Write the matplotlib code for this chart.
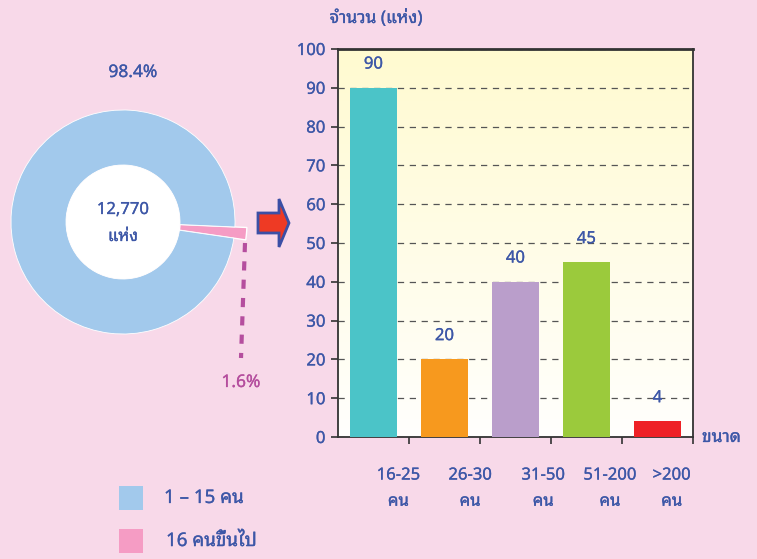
import matplotlib
matplotlib.use('Agg')
import matplotlib.pyplot as plt
import numpy as np
from matplotlib.patches import Circle, FancyArrow, Rectangle
from matplotlib.lines import Line2D
from matplotlib.transforms import IdentityTransform
from matplotlib.colors import LinearSegmentedColormap
import matplotlib.patheffects as pe

plt.rcParams['font.family'] = ['Noto Sans Thai Looped', 'DejaVu Sans']

# ---- data ----
pie_labels = ['1 – 15 คน', '16 คนขึ้นไป']
pie_values = [98.4, 1.6]
pie_total = '12,770'
pie_unit = 'แห่ง'
bar_categories = ['16-25\nคน', '26-30\nคน', '31-50\nคน', '51-200\nคน', '>200\nคน']
bar_values = [90, 20, 40, 45, 4]
y_ticks = [0, 10, 20, 30, 40, 50, 60, 70, 80, 90, 100]
y_title = 'จำนวน (แห่ง)'
x_title = 'ขนาด'

# ---- styles ----
W, H = 757, 559
BG = '#F8D9E9'
TXT = '#3D57A7'
MAG = '#B54E9E'
pie_colors = ['#A2C9EC', '#F59CC4']
bar_colors = ['#4BC4C8', '#F7991E', '#BA9ECB', '#9BCA3C', '#EE2126']

def thick(c):
    return [pe.withStroke(linewidth=0.2, foreground=c)]

fig = plt.figure(figsize=(W / 100, H / 100), dpi=100, facecolor=BG)

def px(x, y):
    return x / W, 1 - y / H

# ---- donut ----
cx, cy = 123, 222
axp = fig.add_axes([(cx - 130) / W, (H - cy - 130) / H, 260 / W, 260 / H])
axp.set_facecolor('none')
wedges, _ = axp.pie(pie_values[::-1], colors=pie_colors[::-1], startangle=-8.3,
                    counterclock=True, radius=1.12,
                    wedgeprops=dict(width=0.55, edgecolor='white', linewidth=0.6))
pink = wedges[0]
pink.set_radius(1.24)
pink.set_width(0.67)
pink.set_linewidth(1.0)
axp.add_patch(Circle((0, 0), 0.57, facecolor='white', edgecolor='none', zorder=5))
axp.set_xlim(-1.3, 1.3)
axp.set_ylim(-1.3, 1.3)
axp.set_aspect('equal')
axp.axis('off')

fig.text(*px(123, 210), pie_total, ha='center', va='center', color=TXT, fontsize=12, path_effects=thick(TXT))
fig.text(*px(123, 237), pie_unit, ha='center', va='center', color=TXT, fontsize=12, path_effects=thick(TXT))
fig.text(*px(133, 72), f'{pie_values[0]}%', ha='center', va='center', color=TXT, fontsize=12.5, path_effects=thick(TXT))
fig.text(*px(241, 382), f'{pie_values[1]}%', ha='center', va='center', color=MAG, fontsize=12.5, path_effects=thick(MAG))
x0, y0 = px(245, 243)
x1, y1 = px(241, 358)
fig.add_artist(Line2D([x0, x1], [y0, y1], color=MAG, lw=3, dashes=(2.2, 2.2)))

# arrow
fig.add_artist(FancyArrow(258, H - 223, 31, 0, width=20, head_width=48, head_length=10,
                          length_includes_head=True, facecolor='#EE3A24',
                          edgecolor='#3B4FA5', linewidth=2, transform=IdentityTransform()))

# legend
for i, (lab, col) in enumerate(zip(pie_labels, pie_colors)):
    yy = 498 + i * 43
    fig.add_artist(Rectangle(px(119, yy + 12), 24 / W, 24 / H, facecolor=col, edgecolor='none'))
    fig.text(*px(164 + i * 2, yy), lab, ha='left', va='center', color=TXT, fontsize=13.5, path_effects=thick(TXT))

# ---- bar chart ----
L, R, T, B = 338, 693, 49, 437
ax = fig.add_axes([L / W, (H - B) / H, (R - L) / W, (B - T) / H])
ax.set_facecolor('white')
grad = np.linspace(0, 1, 256).reshape(-1, 1)
cmap = LinearSegmentedColormap.from_list('g', ['#FFFFFD', '#FFFAD0'])
ax.imshow(grad, extent=[0, 1, 0, 1], transform=ax.transAxes, origin='lower',
          cmap=cmap, aspect='auto', zorder=0)
x = np.arange(len(bar_values))
bars = ax.bar(x, bar_values, width=0.65, color=bar_colors, zorder=3)
for t in ax.bar_label(bars, padding=11, color=TXT, fontsize=12):
    t.set_path_effects(thick(TXT))
ax.set_xlim(-0.5, len(bar_values) - 0.5)
ax.set_ylim(0, 100)
ax.set_yticks(y_ticks)
ax.yaxis.grid(True, color='#555555', linestyle=(0, (5, 4.5)), linewidth=0.9, zorder=1)
ax.set_axisbelow(True)
ax.tick_params(axis='y', colors='#333333', labelcolor=TXT, labelsize=12, length=5, width=1.2, pad=4)
ax.set_xticks(np.arange(len(bar_values)) + 0.5)
ax.set_xticklabels([])
ax.tick_params(axis='x', which='major', length=5, width=1.2, colors='#333333')
label_pos = [0.35, 1.36, 2.39, 3.33, 4.2]
ax.set_xticks(label_pos, minor=True)
ax.set_xticklabels(bar_categories, minor=True, linespacing=1.85)
ax.tick_params(axis='x', which='minor', length=0, pad=22, labelcolor=TXT, labelsize=12)
for t in ax.get_yticklabels() + ax.get_xticklabels(minor=True):
    t.set_path_effects(thick(TXT))
for s in ['left', 'right', 'bottom']:
    ax.spines[s].set_color('#333333')
    ax.spines[s].set_linewidth(1.3)
ax.spines['top'].set_color('#333333')
ax.spines['top'].set_linewidth(2)

fig.text(*px(376, 18), y_title, ha='center', va='center', color=TXT, fontsize=12.5, path_effects=thick(TXT))
fig.text(*px(702, 437), x_title, ha='left', va='center', color=TXT, fontsize=12.5, path_effects=thick(TXT))

fig.savefig('out.png', dpi=100, facecolor=BG)
